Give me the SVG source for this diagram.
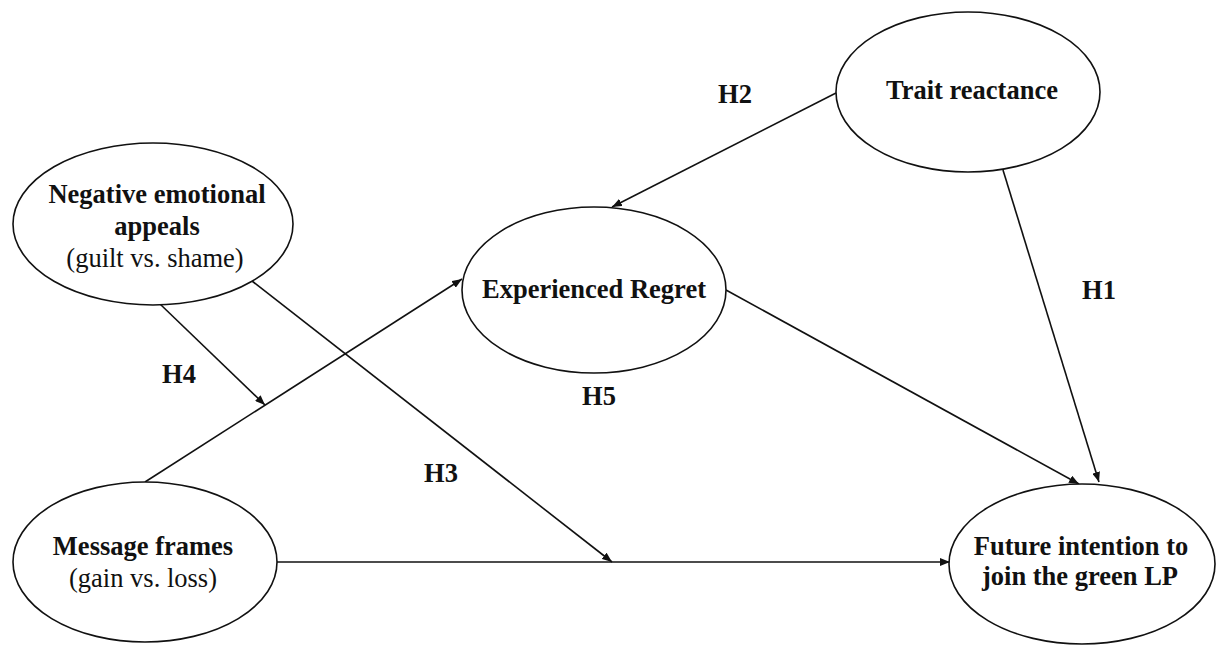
<svg xmlns="http://www.w3.org/2000/svg" width="1220" height="646" viewBox="0 0 1220 646">
<style>
.node ellipse{fill:#fff;stroke:#111;stroke-width:1.6}
text{font-family:"Liberation Serif","Times New Roman",serif;font-size:26.5px;fill:#111;text-anchor:middle}
.b{font-weight:bold}
.conn line{stroke:#111;stroke-width:1.6;marker-end:url(#ah)}
</style>
<defs>
<marker id="ah" viewBox="0 0 10 8" refX="10" refY="4" markerWidth="10" markerHeight="8" markerUnits="userSpaceOnUse" orient="auto">
<path d="M0,0 L10,4 L0,8 Z" fill="#111"/>
</marker>
</defs>
<rect width="1220" height="646" fill="#fff"/>
<g id="connectors" class="conn">
<line x1="836" y1="93" x2="612" y2="207"/>
<line x1="1003" y1="170" x2="1099" y2="482"/>
<line x1="726" y1="290" x2="1079" y2="484"/>
<line x1="145" y1="482" x2="462" y2="279"/>
<line x1="160" y1="304" x2="265" y2="405"/>
<line x1="252" y1="281" x2="612" y2="562"/>
<line x1="277" y1="562" x2="950" y2="562"/>
</g>
<g id="neg">
<g class="node"><ellipse cx="153" cy="224" rx="140" ry="81"/></g>
<text class="b" x="157" y="203">Negative emotional</text>
<text class="b" x="157" y="235">appeals</text>
<text x="155" y="267">(guilt vs. shame)</text>
</g>
<g id="regret">
<g class="node"><ellipse cx="594" cy="290" rx="132" ry="83"/></g>
<text class="b" x="594" y="298">Experienced Regret</text>
</g>
<g id="trait">
<g class="node"><ellipse cx="968" cy="92" rx="132" ry="80"/></g>
<text class="b" x="972" y="99">Trait reactance</text>
</g>
<g id="msg">
<g class="node"><ellipse cx="145" cy="562" rx="132" ry="80"/></g>
<text class="b" x="143" y="555">Message frames</text>
<text x="143" y="587">(gain vs. loss)</text>
</g>
<g id="future">
<g class="node"><ellipse cx="1082" cy="564" rx="133" ry="80"/></g>
<text class="b" x="1081" y="555">Future intention to</text>
<text class="b" x="1080" y="585">join the green LP</text>
</g>
<g id="labels">
<text class="b" x="735" y="103">H2</text>
<text class="b" x="1099" y="299">H1</text>
<text class="b" x="179" y="383">H4</text>
<text class="b" x="599" y="405">H5</text>
<text class="b" x="441" y="482">H3</text>
</g>
</svg>
